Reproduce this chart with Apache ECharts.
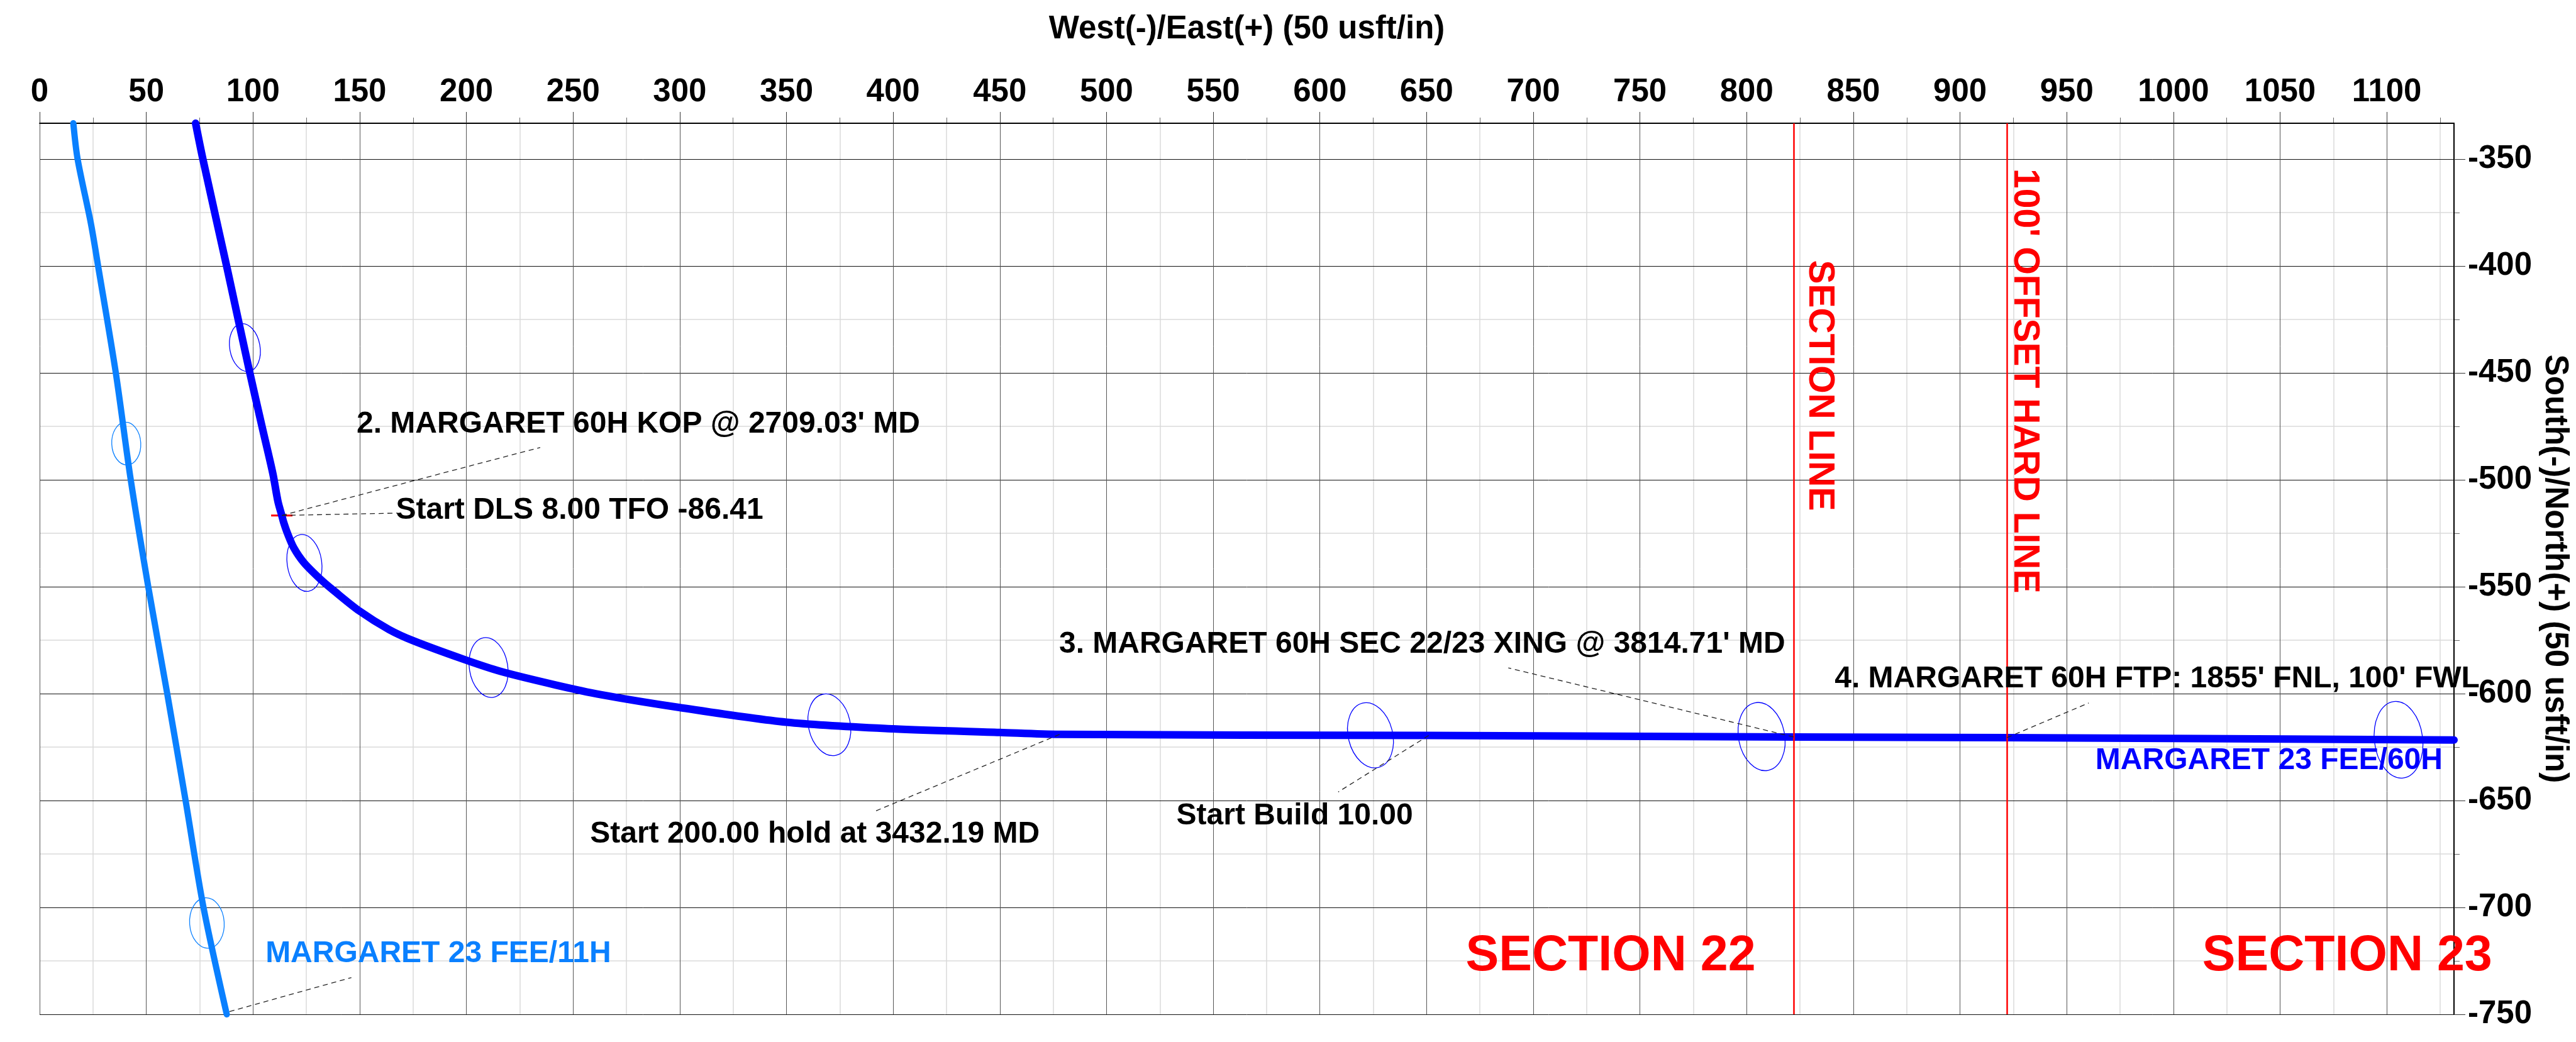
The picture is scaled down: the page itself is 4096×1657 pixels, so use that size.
<!DOCTYPE html>
<html>
<head>
<meta charset="utf-8">
<script src="https://cdn.jsdelivr.net/npm/echarts@6/dist/echarts.min.js"></script>
<style>
  html, body { margin: 0; padding: 0; background: #fff; }
  #plan { width: 4096px; height: 1657px; }
</style>
</head>
<body>
<div id="plan"></div>
<script>
// axis ticks (usft)
const xTicks = [0, 50, 100, 150, 200, 250, 300, 350, 400, 450, 500, 550, 600, 650, 700, 750, 800, 850, 900, 950, 1000, 1050, 1100];
const xMinor = [25, 75, 125, 175, 225, 275, 325, 375, 425, 475, 525, 575, 625, 675, 725, 775, 825, 875, 925, 975, 1025, 1075, 1125];
const yTicks = [-750, -700, -650, -600, -550, -500, -450, -400, -350];
const yMinor = [-725, -675, -625, -575, -525, -475, -425, -375];

// MARGARET 23 FEE/60H plan view
const well60hEW = [73.1, 76.5, 87.8, 98.5, 104.2, 109.3, 111.7, 113.5, 114.3, 116.1, 119.1, 123.9, 131.7, 137.8, 149.9, 163.8, 175.1, 198.5, 215.9, 241.9, 263, 299.7, 350, 400, 450, 478, 651, 822, 922, 1131.5];
const well60hNS = [-333.3, -350, -400.8, -450, -475, -497.1, -510.2, -516.7, -519.7, -524.9, -531.8, -538.8, -546.6, -551.8, -561.4, -570.1, -575.3, -583.9, -589.6, -596, -600.5, -606.5, -613.4, -616.5, -618.2, -619.1, -619.6, -620.3, -620.6, -621.7];

// MARGARET 23 FEE/11H plan view
const well11hEW = [15.8, 17.8, 24.0, 27.4, 35.7, 42.7, 50.9, 59.8, 68.4, 76.8, 87.7];
const well11hNS = [-333.3, -350, -380, -400, -450, -500, -550, -600, -650, -700, -750];

// error ellipses (centre, semi axes in usft, tilt in degrees)
const ell60hEW = [96.2, 124.1, 210.4, 370.1, 623.7, 807.0, 1105.5];
const ell60hNS = [-438.2, -538.9, -587.8, -614.6, -619.5, -620.1, -621.6];
const ell60hMinor = [7.1, 8.1, 9.0, 9.8, 10.4, 10.8, 11.3];
const ell60hMajor = [11.3, 13.4, 14.1, 14.6, 15.5, 16.1, 18.0];
const ell60hTilt = [10, 8, 9, 12, 14, 11, 7];

const ell11hEW = [40.6, 78.4];
const ell11hNS = [-483.1, -707.3];
const ell11hMinor = [6.8, 8.1];
const ell11hMajor = [10.0, 11.8];
const ell11hTilt = [3, 4];

// lease lines
const sectionLineEW = [822, 922];

// KOP
const kopPoint = [113.5, -516.7];

// annotations
const noteText = [
  "2. MARGARET 60H KOP @ 2709.03' MD",
  "Start DLS 8.00 TFO -86.41",
  "3. MARGARET 60H SEC 22/23 XING @ 3814.71' MD",
  "4. MARGARET 60H FTP: 1855' FNL, 100' FWL",
  "Start 200.00 hold at 3432.19 MD",
  "Start Build 10.00"
];
const noteEW = [148.4, 166.8, 477.6, 841.1, 257.8, 532.6];
const noteNS = [-474.2, -514.3, -577.1, -593.2, -665.9, -657.3];

const leaderFrom = [[113.5, -516.7], [113.5, -516.7], [822, -620.3], [922, -620.6], [478, -619.1], [651, -619.6], [89, -748.7]];
const leaderTo = [[234.6, -484.9], [167.8, -515.6], [688.3, -588.0], [960.3, -604.4], [391.8, -654.9], [608.6, -646], [146.1, -732.8]];

const wellLabels = ['MARGARET 23 FEE/11H', 'MARGARET 23 FEE/60H'];
const wellLabelEW = [105.7, 963.3];
const wellLabelNS = [-721.8, -631.5];

const sectionText = ['SECTION 22', 'SECTION 23'];
const sectionTextEW = [668.2, 1013.4];
const sectionTextNS = [-722.9, -722.9];

const lineText = ['SECTION LINE', "100' OFFSET HARD LINE"];
const lineTextEW = [834.1, 930.2];
const lineTextNS = [-455.9, -453.8];

const FONT = "'Liberation Sans', Arial, Helvetica, sans-serif";
const C60 = '#0000ff';
const C11 = '#0a80ff';
const RED = '#ff0000';

function pairs(xs, ys) {
  return xs.map((x, i) => [x, ys[i]]);
}

function ellipses(ew, ns, minor, major, tilt, color) {
  return {
    type: 'custom',
    silent: true,
    z: 4,
    clip: true,
    data: ew.map((x, i) => [x, ns[i], minor[i], major[i], tilt[i]]),
    renderItem: function (params, api) {
      const c = api.coord([api.value(0), api.value(1)]);
      const s = api.size([api.value(2), api.value(3)]);
      return {
        type: 'ellipse',
        x: c[0],
        y: c[1],
        rotation: api.value(4) * Math.PI / 180,
        shape: { cx: 0, cy: 0, rx: s[0], ry: s[1] },
        style: { fill: 'none', stroke: color, lineWidth: 1.3 }
      };
    }
  };
}

function textSeries(texts, xs, ys, label, colors) {
  return {
    type: 'scatter',
    silent: true,
    z: 6,
    symbolSize: 1,
    itemStyle: { color: 'rgba(0,0,0,0)', opacity: 1 },
    data: texts.map((t, i) => ({
      name: t,
      value: [xs[i], ys[i]],
      label: colors ? { color: colors[i] } : undefined
    })),
    label: Object.assign({ show: true, formatter: '{b}', fontFamily: FONT, fontWeight: 'bold' }, label)
  };
}

const labelFont = { fontFamily: FONT, fontWeight: 'bold', fontSize: 51, color: '#000' };
const plain = v => String(v);

const chart = echarts.init(document.getElementById('plan'));
chart.setOption({
  animation: false,
  backgroundColor: '#fff',
  grid: { left: 63, right: 183, top: 196, bottom: 44 },
  xAxis: [
    {
      type: 'value', position: 'top', min: 0, max: 1131.5, interval: 50, z: 2,
      name: 'West(-)/East(+) (50 usft/in)', nameLocation: 'middle', nameGap: 124,
      nameTextStyle: labelFont,
      axisLine: { show: true, onZero: false, lineStyle: { color: '#000', width: 2 } },
      axisTick: { show: true, length: 18, customValues: xTicks, lineStyle: { color: '#333', width: 1 } },
      axisLabel: Object.assign({ show: true, customValues: xTicks, margin: 24, formatter: plain }, labelFont),
      splitLine: { show: true, lineStyle: { color: '#555', width: 1 } }
    },
    {
      type: 'value', position: 'top', min: 0, max: 1131.5, interval: 25, z: 1,
      axisLine: { show: false, onZero: false },
      axisTick: { show: true, length: 9, customValues: xMinor, lineStyle: { color: '#666', width: 1 } },
      axisLabel: { show: false },
      splitLine: { show: true, lineStyle: { color: '#dadada', width: 1.5 } }
    }
  ],
  yAxis: [
    {
      type: 'value', position: 'right', min: -750, max: -333.3, interval: 50, z: 2,
      name: 'South(-)/North(+) (50 usft/in)', nameLocation: 'middle', nameRotate: -90, nameGap: 128,
      nameTextStyle: labelFont,
      axisLine: { show: true, onZero: false, lineStyle: { color: '#000', width: 2 } },
      axisTick: { show: true, length: 18, customValues: yTicks, lineStyle: { color: '#333', width: 1 } },
      axisLabel: Object.assign({ show: true, customValues: yTicks, margin: 22, formatter: plain }, labelFont),
      splitLine: { show: true, lineStyle: { color: '#111', width: 1 } }
    },
    {
      type: 'value', position: 'right', min: -750, max: -333.3, interval: 25, z: 1,
      axisLine: { show: false, onZero: false },
      axisTick: { show: true, length: 9, customValues: yMinor, lineStyle: { color: '#666', width: 1 } },
      axisLabel: { show: false },
      splitLine: { show: true, lineStyle: { color: '#dadada', width: 1.5 } }
    }
  ],
  series: [
    {
      name: 'KOP', type: 'scatter', silent: true, z: 2,
      symbol: 'rect', symbolSize: [34, 3],
      itemStyle: { color: RED, opacity: 1 },
      data: [kopPoint]
    },
    {
      name: 'MARGARET 23 FEE/11H', type: 'line', z: 3, symbol: 'none', clip: true,
      smooth: 0.3,
      data: pairs(well11hEW, well11hNS),
      lineStyle: { color: C11, width: 10, cap: 'round', join: 'round' },
      itemStyle: { color: C11 }
    },
    {
      name: 'MARGARET 23 FEE/60H', type: 'line', z: 3, symbol: 'none', clip: true,
      smooth: 0.3,
      data: pairs(well60hEW, well60hNS),
      lineStyle: { color: C60, width: 12, cap: 'round', join: 'round' },
      itemStyle: { color: C60 },
      markLine: {
        silent: true, symbol: ['none', 'none'], label: { show: false },
        lineStyle: { color: RED, width: 2.5, type: 'solid' },
        data: sectionLineEW.map(v => ({ xAxis: v }))
      }
    },
    ellipses(ell60hEW, ell60hNS, ell60hMinor, ell60hMajor, ell60hTilt, C60),
    ellipses(ell11hEW, ell11hNS, ell11hMinor, ell11hMajor, ell11hTilt, C11),
    Object.assign(textSeries(noteText, noteEW, noteNS, { position: 'right', distance: 0, fontSize: 48, color: '#000' }), {
      markLine: {
        silent: true, symbol: ['none', 'none'], label: { show: false },
        lineStyle: { color: '#222', width: 1.3, type: [8, 6] },
        data: leaderFrom.map((p, i) => [{ coord: p }, { coord: leaderTo[i] }])
      }
    }),
    textSeries(wellLabels, wellLabelEW, wellLabelNS, { position: 'right', distance: 0, fontSize: 48 }, [C11, C60]),
    textSeries(sectionText, sectionTextEW, sectionTextNS, { position: 'right', distance: 0, fontSize: 79, color: RED }),
    textSeries(lineText, lineTextEW, lineTextNS, { position: 'inside', rotate: -90, fontSize: 57, color: RED })
  ]
});
</script>
</body>
</html>
